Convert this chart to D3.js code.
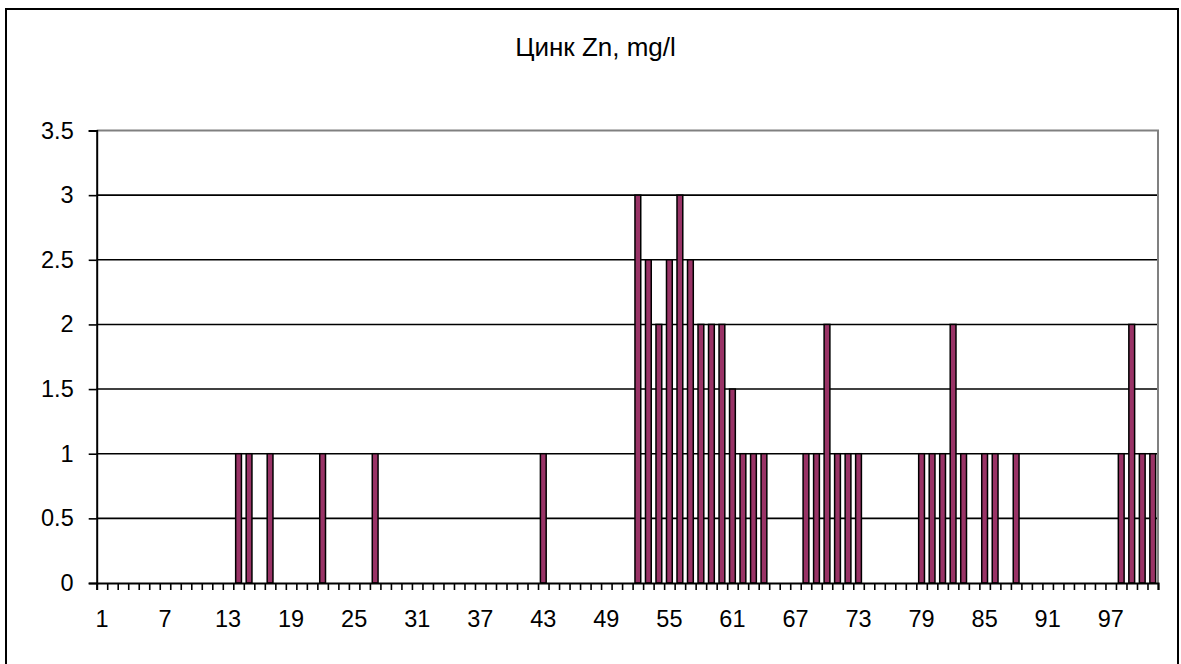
<!DOCTYPE html>
<html>
<head>
<meta charset="utf-8">
<script src="https://cdn.jsdelivr.net/npm/d3@7"></script>
<style>
  html, body { margin: 0; padding: 0; background: #fff; }
  svg text { font-family: "Liberation Sans", Arial, sans-serif; fill: #000; }
</style>
</head>
<body>
<svg id="chart" width="1181" height="664"></svg>
<script>
const title = "Цинк Zn, mg/l";
const categories = d3.range(1, 102);
const values = [
  0,0,0,0,0,0,0,0,0,0,0,0,0,
  1,1,0,1,0,0,0,0,1,0,0,0,0,1,
  0,0,0,0,0,0,0,0,0,0,0,0,0,0,0,
  1,
  0,0,0,0,0,0,0,0,
  3,2.5,2,2.5,3,2.5,2,2,2,1.5,1,1,1,
  0,0,0,
  1,1,2,1,1,1,
  0,0,0,0,0,
  1,1,1,2,1,
  0,1,1,0,1,
  0,0,0,0,0,0,0,0,0,
  1,2,1,1
];
const yTicks = [0, 0.5, 1, 1.5, 2, 2.5, 3, 3.5];
const xLabelCats = d3.range(1, 102, 6);

const svg = d3.select("#chart");
const L = 96.7, R = 1158, T = 130.5, B = 583;
const FS = 23.5;

// outer border
svg.append("rect").attr("x", 6).attr("y", 9).attr("width", 1172).attr("height", 680)
  .attr("fill", "#fff").attr("stroke", "#000").attr("stroke-width", 2);

const x = d3.scaleBand().domain(categories).range([L, R]).paddingInner(0.45).paddingOuter(0.225);
const xEdge = d3.scaleLinear().domain([0.5, 101.5]).range([L, R]);
const y = d3.scaleLinear().domain([0, 3.5]).range([B, T]);

// gridlines
svg.append("g").selectAll("line").data(yTicks.filter(d => d > 0 && d < 3.5)).join("line")
  .attr("x1", L).attr("x2", R).attr("y1", d => y(d)).attr("y2", d => y(d))
  .attr("stroke", "#000").attr("stroke-width", 1.6);

// plot border top/right (gray)
svg.append("path").attr("d", `M${L},${T}H${R}V${B}`).attr("fill", "none")
  .attr("stroke", "#808080").attr("stroke-width", 2);

// bars
svg.append("g").selectAll("rect").data(categories.filter((c, i) => values[i] > 0)).join("rect")
  .attr("x", c => x(c)).attr("width", x.bandwidth())
  .attr("y", c => y(values[c - 1])).attr("height", c => y(0) - y(values[c - 1]))
  .attr("fill", "#993366").attr("stroke", "#000").attr("stroke-width", 1.5);

// y axis
const yAxis = svg.append("g").attr("transform", `translate(${L},0)`)
  .call(d3.axisLeft(y).tickValues(yTicks).tickSize(8).tickPadding(15).tickFormat(d3.format("")));
yAxis.select(".domain").attr("stroke", "#000").attr("stroke-width", 2);
yAxis.selectAll(".tick line").attr("stroke", "#000").attr("stroke-width", 1.6);
yAxis.selectAll(".tick text").attr("font-size", FS).attr("font-family", "Liberation Sans, Arial, sans-serif");

// x axis edge ticks
const xTickAxis = svg.append("g").attr("transform", `translate(0,${B})`)
  .call(d3.axisBottom(xEdge).tickValues(d3.range(0.5, 102, 1)).tickSize(7).tickFormat(""));
xTickAxis.select(".domain").attr("stroke", "#000").attr("stroke-width", 2);
xTickAxis.selectAll(".tick line").attr("stroke", "#000").attr("stroke-width", 1.6);

// x labels
const xLab = svg.append("g").attr("transform", `translate(0,${B})`)
  .call(d3.axisBottom(x).tickValues(xLabelCats).tickSize(0).tickPadding(27));
xLab.select(".domain").remove();
xLab.selectAll(".tick text").attr("font-size", FS).attr("font-family", "Liberation Sans, Arial, sans-serif");

// title
svg.append("text").attr("x", 595.5).attr("y", 56).attr("text-anchor", "middle")
  .attr("font-size", 26).text(title);
</script>
</body>
</html>
